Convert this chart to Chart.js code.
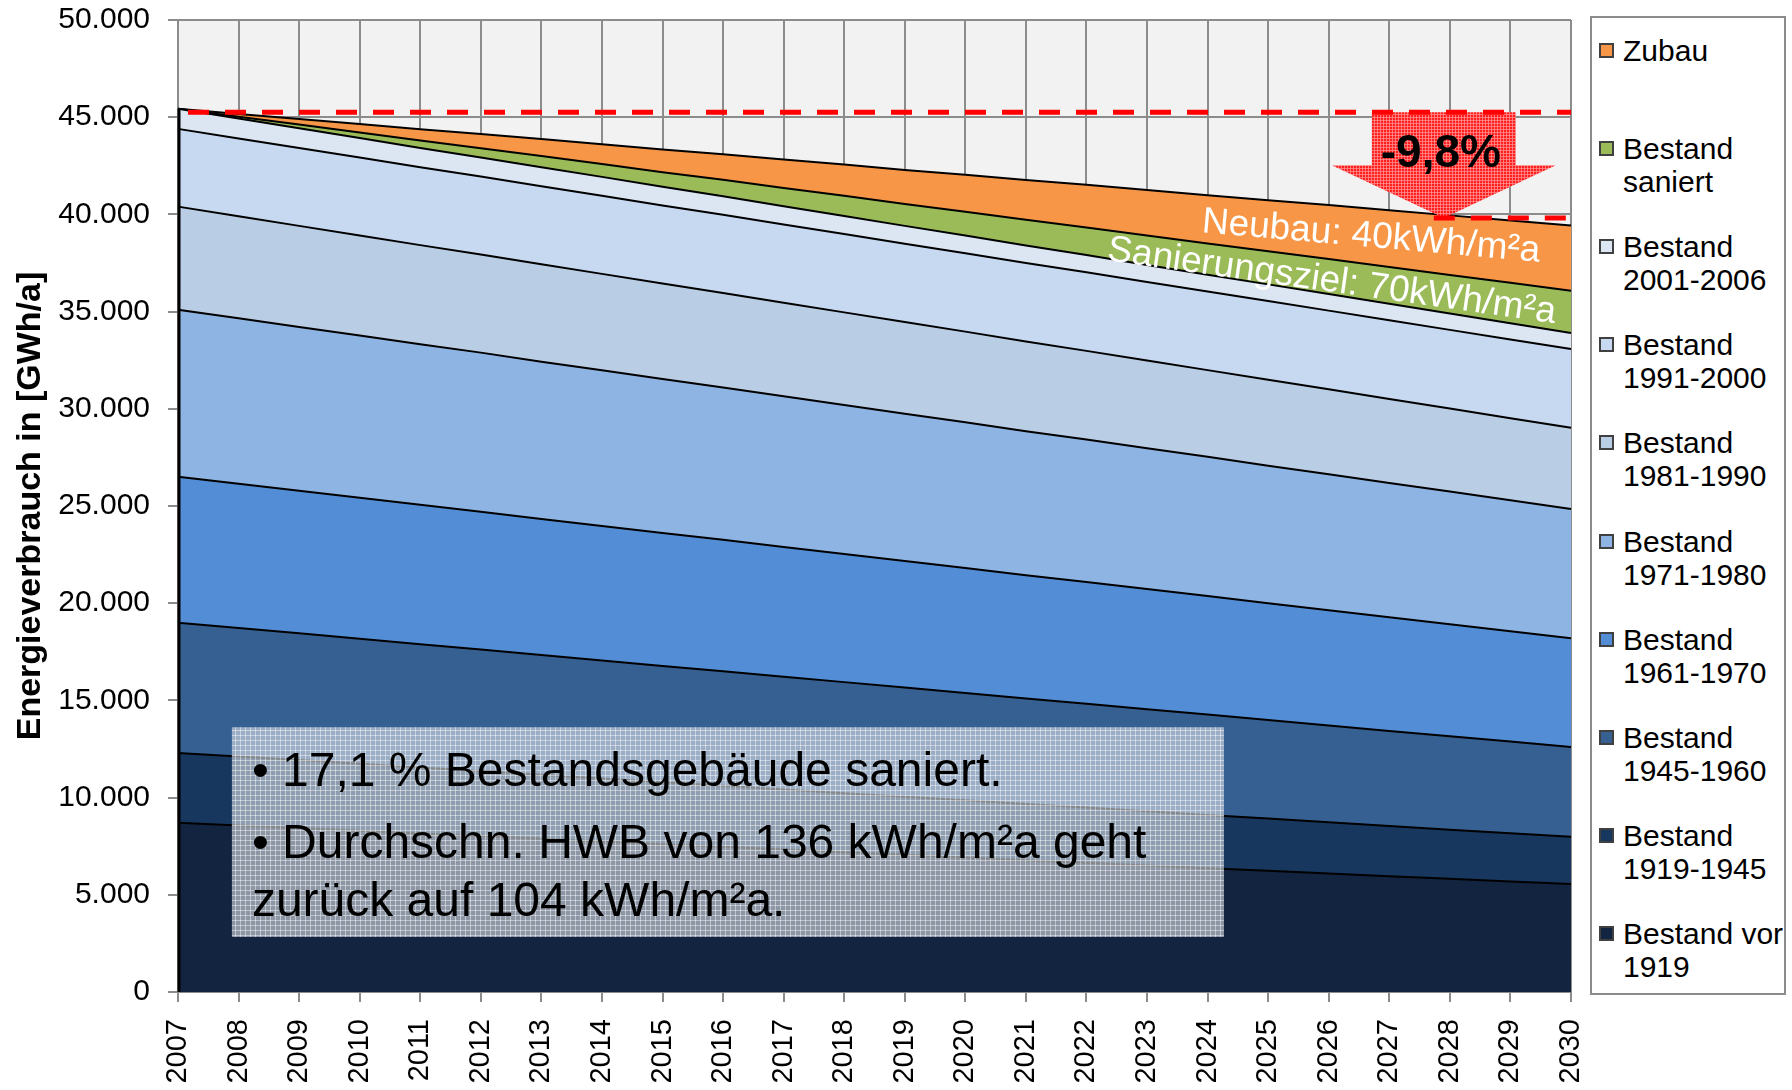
<!DOCTYPE html>
<html>
<head>
<meta charset="utf-8">
<script src="https://cdn.jsdelivr.net/npm/chart.js@4.4.1/dist/chart.umd.min.js"></script>
<style>
  html, body { margin: 0; padding: 0; background: #fff; }
  #wrap { position: relative; width: 1792px; height: 1090px; }
  #chart { position: absolute; left: 0; top: 0; }
  #legend {
    position: absolute; left: 1590px; top: 16px; width: 196px; height: 979px;
    box-sizing: border-box; border: 2px solid #8c8c8c; background: #fff;
    font-family: 'Liberation Sans', Arial, sans-serif; font-size: 30px; color: #000;
  }
  .mark { position: absolute; left: 7px; width: 15px; height: 15px; box-sizing: border-box; border: 2px solid #404040; }
  .txt { position: absolute; left: 31px; line-height: 33px; white-space: nowrap; }
</style>
</head>
<body>
<div id="wrap">
  <canvas id="chart" width="1792" height="1090"></canvas>
  <div id="legend"></div>
</div>
<script>
const years = ['2007','2008','2009','2010','2011','2012','2013','2014','2015','2016','2017','2018',
               '2019','2020','2021','2022','2023','2024','2025','2026','2027','2028','2029','2030'];

// stacked from bottom to top
const vor1919   = [8700,8560,8430,8290,8150,8020,7880,7740,7600,7470,7330,7190,7060,6920,6780,6650,6510,6370,6240,6100,5960,5820,5690,5550];
const b1919_1945 = [3600,3550,3500,3450,3400,3350,3290,3240,3190,3140,3090,3040,2990,2940,2890,2840,2790,2740,2680,2630,2580,2530,2480,2430];
const b1945_1960 = [6700,6610,6520,6430,6340,6250,6160,6070,5980,5890,5800,5710,5610,5520,5430,5340,5250,5160,5070,4980,4890,4800,4710,4620];
const b1961_1970 = [7500,7420,7330,7250,7170,7090,7000,6920,6840,6760,6670,6590,6510,6430,6340,6260,6180,6100,6010,5930,5850,5770,5680,5600];
const b1971_1980 = [8600,8520,8430,8350,8260,8180,8090,8010,7920,7840,7750,7670,7580,7500,7410,7330,7240,7160,7070,6990,6900,6820,6730,6650];
const b1981_1990 = [5300,5250,5200,5150,5100,5050,5010,4960,4910,4860,4810,4760,4710,4660,4610,4560,4510,4460,4420,4370,4320,4270,4220,4170];
const b1991_2000 = [4000,4000,4010,4010,4010,4010,4020,4020,4020,4020,4030,4030,4030,4030,4040,4040,4040,4040,4050,4050,4050,4050,4060,4060];
const b2001_2006 = [1030,1020,1010,1000,990,980,980,970,960,950,940,930,920,910,900,890,880,870,860,860,850,840,830,820];
const saniert   = [0,90,190,280,380,470,570,660,750,850,940,1040,1130,1230,1320,1420,1510,1600,1700,1790,1890,1980,2080,2170];
const zubau     = [0,150,290,440,580,730,880,1020,1170,1310,1460,1610,1750,1900,2050,2190,2340,2480,2630,2780,2920,3070,3210,3360];

const seriesData = [vor1919, b1919_1945, b1945_1960, b1961_1970, b1971_1980, b1981_1990, b1991_2000, b2001_2006, saniert, zubau];
const seriesLabels = [
  ['Bestand vor', '1919'], ['Bestand', '1919-1945'], ['Bestand', '1945-1960'], ['Bestand', '1961-1970'],
  ['Bestand', '1971-1980'], ['Bestand', '1981-1990'], ['Bestand', '1991-2000'], ['Bestand', '2001-2006'],
  ['Bestand', 'saniert'], ['Zubau']
];
const seriesColors = ['#12243f', '#17375e', '#376092', '#538dd5', '#8eb4e3', '#b9cde5', '#c6d9f1', '#dce6f2', '#9bbb59', '#f79646'];

// reference levels (start / end) and reduction marker
const refLevels = [45250, 39810];
const reductionText = '-9,8%';
const arrowYear = 2027.9;
const bandLabels = [
  { text: 'Neubau: 40kWh/m²a', year: 2026.7, value: 38850, angle: 5 },
  { text: 'Sanierungsziel: 70kWh/m²a', year: 2026.05, value: 36550, angle: 8 }
];
const noteLines = ['• 17,1 % Bestandsgebäude saniert.', '• Durchschn. HWB von 136 kWh/m²a geht', 'zurück auf 104 kWh/m²a.'];

const FONT = "'Liberation Sans', Arial, sans-serif";

function makePattern(ctx, size, base, line) {
  const c = document.createElement('canvas');
  c.width = size; c.height = size;
  const g = c.getContext('2d');
  g.fillStyle = base; g.fillRect(0, 0, size, size);
  g.fillStyle = line; g.fillRect(0, 0, size, 1); g.fillRect(0, 0, 1, size);
  return ctx.createPattern(c, 'repeat');
}

const extras = {
  id: 'extras',
  beforeDraw(chart) {
    const { ctx, chartArea: a } = chart;
    ctx.save();
    ctx.fillStyle = '#f2f2f2';
    ctx.fillRect(a.left, a.top, a.right - a.left, a.bottom - a.top);
    ctx.restore();
  },
  afterDatasetsDraw(chart) {
    const { ctx, chartArea: a, scales: { x, y } } = chart;
    const yr = v => x.getPixelForValue(v - 2007);
    ctx.save();

    // left edge of the stacked area
    const total0 = seriesData.reduce((s, d) => s + d[0], 0);
    ctx.strokeStyle = '#000'; ctx.lineWidth = 3;
    ctx.beginPath();
    ctx.moveTo(a.left + 1, y.getPixelForValue(total0));
    ctx.lineTo(a.left + 1, y.getPixelForValue(0));
    ctx.stroke();

    // arrow
    const tipX = yr(arrowYear);
    const topY = y.getPixelForValue(refLevels[0]);
    const tipY = y.getPixelForValue(refLevels[1]);
    const headY = topY + (tipY - topY) * 0.5;
    ctx.beginPath();
    ctx.moveTo(tipX - 72, topY);
    ctx.lineTo(tipX + 72, topY);
    ctx.lineTo(tipX + 72, headY);
    ctx.lineTo(tipX + 112, headY);
    ctx.lineTo(tipX, tipY);
    ctx.lineTo(tipX - 112, headY);
    ctx.lineTo(tipX - 72, headY);
    ctx.closePath();
    ctx.fillStyle = makePattern(ctx, 3, '#ff1f1f', 'rgba(255,140,140,0.8)');
    ctx.fill();

    // dashed reference lines
    ctx.strokeStyle = '#ff0000'; ctx.lineWidth = 5;
    ctx.setLineDash([21, 16]);
    ctx.beginPath();
    ctx.moveTo(a.left + 10, topY); ctx.lineTo(a.right, topY);
    ctx.moveTo(tipX - 10, tipY); ctx.lineTo(a.right, tipY);
    ctx.stroke();
    ctx.setLineDash([]);

    ctx.fillStyle = '#000';
    ctx.font = 'bold 46px ' + FONT;
    ctx.textAlign = 'center'; ctx.textBaseline = 'alphabetic';
    ctx.fillText(reductionText, tipX - 3, topY + 55);

    // band labels
    ctx.fillStyle = '#fff';
    ctx.font = '37px ' + FONT;
    ctx.textBaseline = 'middle';
    bandLabels.forEach(l => {
      ctx.save();
      ctx.translate(yr(l.year), y.getPixelForValue(l.value));
      ctx.rotate(l.angle * Math.PI / 180);
      ctx.fillText(l.text, 0, 0);
      ctx.restore();
    });

    // note box
    const bx = yr(2007.89), by = y.getPixelForValue(13620);
    const bw = yr(2024.27) - bx, bh = y.getPixelForValue(2830) - by;
    ctx.fillStyle = 'rgba(222,226,232,0.6)';
    ctx.fillRect(bx, by, bw, bh);
    ctx.fillStyle = makePattern(ctx, 5, 'rgba(0,0,0,0)', 'rgba(255,255,255,0.45)');
    ctx.fillRect(bx, by, bw, bh);
    ctx.fillStyle = '#000';
    ctx.textAlign = 'left'; ctx.textBaseline = 'alphabetic';
    ctx.font = '48px ' + FONT;
    ctx.fillText(noteLines[0], bx + 20, by + 59);
    ctx.fillText(noteLines[1], bx + 20, by + 131);
    ctx.fillText(noteLines[2], bx + 20, by + 189);

    ctx.restore();
  }
};

const datasets = seriesData.map((d, i) => ({
  label: seriesLabels[i].join(' '),
  data: d,
  backgroundColor: seriesColors[i],
  borderColor: '#000',
  borderWidth: 2,
  pointRadius: 0,
  tension: 0,
  fill: i === 0 ? 'origin' : '-1'
}));

new Chart(document.getElementById('chart'), {
  type: 'line',
  data: { labels: years, datasets },
  options: {
    responsive: false,
    animation: false,
    layout: { padding: { top: 20, right: 221, left: 0, bottom: 0 } },
    plugins: { legend: { display: false }, tooltip: { enabled: false } },
    scales: {
      x: {
        offset: false,
        grid: { color: '#8c8c8c', lineWidth: 2, tickLength: 10 },
        border: { color: '#8c8c8c', width: 2 },
        ticks: { color: '#000', font: { family: FONT, size: 29 }, minRotation: 90, maxRotation: 90, autoSkip: false, padding: 17 },
        afterFit(s) { s.height = 98; }
      },
      y: {
        stacked: true,
        min: 0, max: 50000,
        grid: { color: '#8c8c8c', lineWidth: 2, tickLength: 10 },
        border: { color: '#8c8c8c', width: 2 },
        ticks: {
          stepSize: 5000, color: '#000', padding: 18,
          font: { family: FONT, size: 30 },
          callback: v => v === 0 ? '0' : (v / 1000) + '.000'
        },
        title: {
          display: true, text: 'Energieverbrauch in [GWh/a]', color: '#000',
          font: { family: FONT, size: 34, weight: 'bold' }, padding: { top: 10, bottom: 0 }
        },
        afterFit(s) { s.width = 178; s.paddingTop = 0; s.paddingBottom = 0; }
      }
    }
  },
  plugins: [extras]
});

// legend, top entry first
const legend = document.getElementById('legend');
for (let k = 0; k < seriesData.length; k++) {
  const i = seriesData.length - 1 - k;
  const cy = 32 + 98.2 * k;
  const m = document.createElement('div');
  m.className = 'mark';
  m.style.top = (cy - 7.5) + 'px';
  m.style.background = seriesColors[i];
  const t = document.createElement('div');
  t.className = 'txt';
  t.style.top = (cy - 16.5) + 'px';
  t.innerHTML = seriesLabels[i].join('<br>');
  legend.appendChild(m);
  legend.appendChild(t);
}
</script>
</body>
</html>
